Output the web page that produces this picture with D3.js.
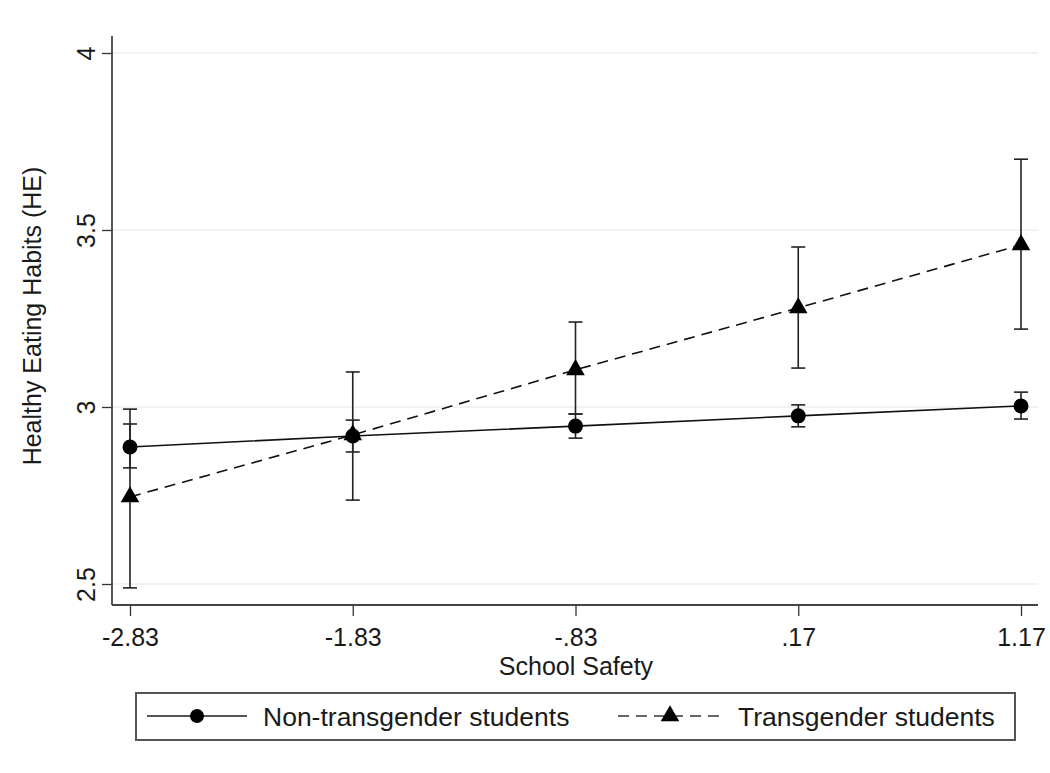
<!DOCTYPE html>
<html><head><meta charset="utf-8">
<script src="https://cdn.jsdelivr.net/npm/d3@7"></script>
<style>
body{margin:0;background:#fff;}
text{font-family:"Liberation Sans",Arial,sans-serif;fill:#1a1a1a;}
</style></head>
<body><svg id="c" width="1050" height="773"></svg>
<script>
const xValues = [-2.83, -1.83, -0.83, 0.17, 1.17];
const xTickLabels = ["-2.83", "-1.83", "-.83", ".17", "1.17"];
const yTicks = [2.5, 3, 3.5, 4];
const yTickLabels = ["2.5", "3", "3.5", "4"];
const nonTransMean = [2.887, 2.918, 2.946, 2.975, 3.003];
const nonTransLow  = [2.828, 2.873, 2.912, 2.944, 2.966];
const nonTransHigh = [2.952, 2.963, 2.980, 3.006, 3.042];
const transMean = [2.746, 2.921, 3.105, 3.280, 3.458];
const transLow  = [2.489, 2.737, 2.980, 3.110, 3.220];
const transHigh = [2.994, 3.099, 3.240, 3.452, 3.700];
const seriesNames = ["Non-transgender students", "Transgender students"];
const xTitle = "School Safety";
const yTitle = "Healthy Eating Habits (HE)";

const svg = d3.select("#c");
const x = d3.scaleLinear().domain([-2.83, 1.17]).range([130, 1021]);
const y = d3.scaleLinear().domain([2.5, 4]).range([584, 53]);
const axL = 112, axR = 1038, axT = 36, axB = 605;

// gridlines
svg.append("g").selectAll("line").data(yTicks).join("line")
  .attr("x1", axL).attr("x2", axR)
  .attr("y1", d => y(d)).attr("y2", d => y(d))
  .attr("stroke", "#e8f0f0").attr("stroke-width", 1.5);

// axes
const gx = svg.append("g").attr("transform", `translate(0,${axB})`)
  .call(d3.axisBottom(x).tickValues(xValues).tickFormat((d,i)=>xTickLabels[i]).tickSize(11).tickPadding(8));
gx.select(".domain").remove();
gx.selectAll(".tick line").attr("stroke", "#333").attr("stroke-width", 1.3);
gx.selectAll(".tick text").attr("font-size", 25).attr("fill", "#1a1a1a")
  .attr("y", 41).attr("dy", 0);

const gy = svg.append("g").attr("transform", `translate(${axL},0)`)
  .call(d3.axisLeft(y).tickValues(yTicks).tickFormat((d,i)=>yTickLabels[i]).tickSize(10));
gy.select(".domain").remove();
gy.selectAll(".tick line").attr("stroke", "#333").attr("stroke-width", 1.3);
gy.selectAll(".tick text").attr("font-size", 25).attr("fill", "#1a1a1a")
  .attr("text-anchor", "middle").attr("transform", "rotate(-90)")
  .attr("x", 0).attr("y", -17).attr("dy", 0);

svg.append("line").attr("x1", axL).attr("x2", axL).attr("y1", axT).attr("y2", axB)
  .attr("stroke", "#444").attr("stroke-width", 1.8);
svg.append("line").attr("x1", axL).attr("x2", axR).attr("y1", axB).attr("y2", axB)
  .attr("stroke", "#444").attr("stroke-width", 1.8);

svg.append("text").attr("x", 576).attr("y", 675).attr("text-anchor", "middle")
  .attr("font-size", 25).text(xTitle);
svg.append("text").attr("transform", "translate(41,316) rotate(-90)").attr("text-anchor", "middle")
  .attr("font-size", 25).text(yTitle);

// CI caps
function drawCI(low, high) {
  const g = svg.append("g").attr("stroke", "#222").attr("stroke-width", 1.6);
  xValues.forEach((xv, i) => {
    g.append("line").attr("x1", x(xv)).attr("x2", x(xv)).attr("y1", y(low[i])).attr("y2", y(high[i]));
    [low[i], high[i]].forEach(v => g.append("line")
      .attr("x1", x(xv) - 7).attr("x2", x(xv) + 7).attr("y1", y(v)).attr("y2", y(v)));
  });
}
drawCI(nonTransLow, nonTransHigh);
drawCI(transLow, transHigh);

const line = d3.line().x((d,i)=>x(xValues[i])).y(d=>y(d));
svg.append("path").datum(nonTransMean).attr("d", line).attr("fill", "none")
  .attr("stroke", "#111").attr("stroke-width", 1.6);
svg.append("path").datum(transMean).attr("d", line).attr("fill", "none")
  .attr("stroke", "#111").attr("stroke-width", 1.6).attr("stroke-dasharray", "11,7");

const tri = d3.symbol().type(d3.symbolTriangle).size(150);
svg.append("g").selectAll("circle").data(nonTransMean).join("circle")
  .attr("cx", (d,i)=>x(xValues[i])).attr("cy", d=>y(d)).attr("r", 7.5).attr("fill", "#000");
svg.append("g").selectAll("path").data(transMean).join("path")
  .attr("d", tri).attr("transform", (d,i)=>`translate(${x(xValues[i])},${y(d)})`).attr("fill", "#000");

// legend
const lg = svg.append("g");
lg.append("rect").attr("x", 136).attr("y", 693).attr("width", 879).attr("height", 47)
  .attr("fill", "#fff").attr("stroke", "#555").attr("stroke-width", 2);
lg.append("line").attr("x1", 147).attr("x2", 247).attr("y1", 716).attr("y2", 716)
  .attr("stroke", "#555").attr("stroke-width", 2);
lg.append("circle").attr("cx", 197).attr("cy", 716).attr("r", 7).attr("fill", "#000");
lg.append("text").attr("x", 263).attr("y", 726).attr("font-size", 26.5).text(seriesNames[0]);
lg.append("line").attr("x1", 618).attr("x2", 720).attr("y1", 716).attr("y2", 716)
  .attr("stroke", "#666").attr("stroke-width", 2).attr("stroke-dasharray", "11,7");
lg.append("path").attr("d", tri).attr("transform", "translate(670,716)").attr("fill", "#000");
lg.append("text").attr("x", 738).attr("y", 726).attr("font-size", 26.5).text(seriesNames[1]);
</script></body></html>
